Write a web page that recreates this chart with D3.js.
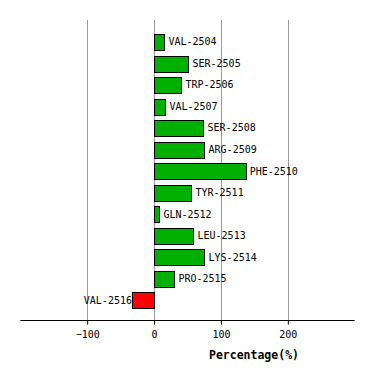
<!DOCTYPE html>
<html><head><meta charset="utf-8">
<script src="https://d3js.org/d3.v7.min.js"></script>
<style>body{margin:0;background:#fff}svg{display:block}</style>
</head><body>
<script>
const residues = ["VAL-2504","SER-2505","TRP-2506","VAL-2507","SER-2508","ARG-2509","PHE-2510","TYR-2511","GLN-2512","LEU-2513","LYS-2514","PRO-2515","VAL-2516"];
const percentages = [15.5, 51.5, 41, 17, 74, 75.5, 137, 56, 8, 59, 75.5, 30.5, -33];
const tickValues = [-100, 0, 100, 200];
const axisTitle = "Percentage(%)";

const W = 374, H = 380;
const svg = d3.select("body").append("svg").attr("width", W).attr("height", H);
const font = "'DejaVu Sans Mono', monospace";

const x = d3.scaleLinear().domain([-200, 300]).range([20.3, 354.7]);
const y = d3.scaleBand().domain(residues).range([31.1, 311]).paddingInner(0.28).paddingOuter(0.14);
const plotTop = 20, axisY = 320;

// gridlines
svg.append("g").selectAll("line").data(tickValues).join("line")
  .attr("x1", d => Math.round(x(d)) + 0.5).attr("x2", d => Math.round(x(d)) + 0.5)
  .attr("y1", plotTop).attr("y2", axisY)
  .attr("stroke", "#999").attr("stroke-width", 1);

// bars
svg.append("g").selectAll("rect").data(residues).join("rect")
  .attr("x", (d, i) => Math.round(x(Math.min(0, percentages[i]))) + 0.5)
  .attr("width", (d, i) => Math.round(Math.abs(x(percentages[i]) - x(0))))
  .attr("y", d => Math.round(y(d)) + 0.5)
  .attr("height", Math.round(y.bandwidth()))
  .attr("fill", (d, i) => percentages[i] < 0 ? "#ff0000" : "#00b000")
  .attr("stroke", "#000").attr("stroke-width", 1);

// labels
svg.append("g").selectAll("text").data(residues).join("text")
  .attr("x", (d, i) => percentages[i] < 0 ? x(percentages[i]) : x(percentages[i]) + 4)
  .attr("y", d => y(d) + y.bandwidth() / 2)
  .attr("dy", "0.35em")
  .attr("text-anchor", (d, i) => percentages[i] < 0 ? "end" : "start")
  .attr("font-family", font).attr("font-size", 10).attr("fill", "#000")
  .text(d => d);

// axis
const axis = d3.axisBottom(x).tickValues(tickValues).tickSize(4).tickPadding(6).tickFormat(d3.format("d"));
const g = svg.append("g").attr("transform", `translate(0,${axisY + 0.5})`).call(axis);
g.select(".domain").attr("d", `M${x(-200)},0H${x(300)}`).attr("stroke", "#000");
g.selectAll(".tick line").attr("stroke", "#000");
g.selectAll(".tick text").attr("font-family", font).attr("font-size", 10).attr("fill", "#000");

svg.append("text").attr("x", 254).attr("y", 355).attr("dy", "0.35em")
  .attr("text-anchor", "middle").attr("font-family", font).attr("font-weight", "bold")
  .attr("font-size", 11.5).attr("fill", "#000").text(axisTitle);
</script>
</body></html>
